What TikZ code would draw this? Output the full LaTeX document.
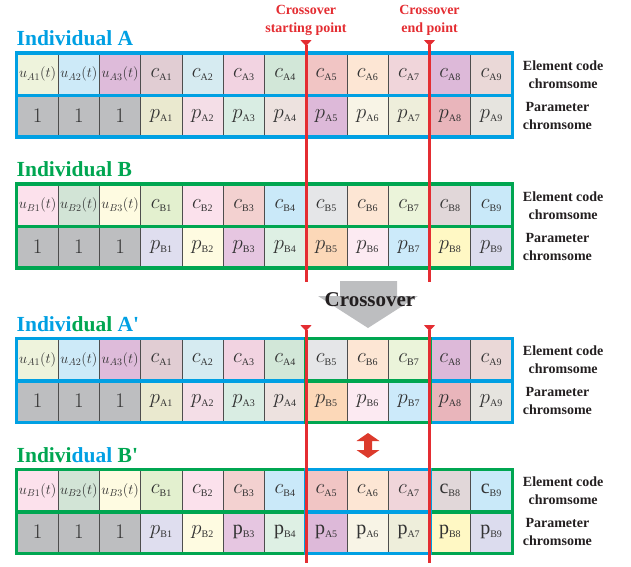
\documentclass[tikz,border=0pt]{standalone}
\usepackage{fontspec}
\setmainfont{Liberation Serif}
\usepackage{xcolor}
\usepackage{tikz}
\usetikzlibrary{arrows.meta, positioning}

\definecolor{indA}{RGB}{0,160,227}
\definecolor{indB}{RGB}{0,166,81}
\definecolor{cutred}{RGB}{228,45,50}
\definecolor{swapred}{RGB}{220,58,44}
\definecolor{gene}{RGB}{51,51,51}
\definecolor{grid}{RGB}{77,77,77}
\definecolor{onegray}{RGB}{189,190,192}
\definecolor{ink}{RGB}{35,31,32}

\newcommand{\ugen}[1]{{\fontsize{14}{14}\selectfont$u_{#1}(t)$}}
\newcommand{\cgen}[1]{$c_{\mbox{\fontsize{10}{10}\selectfont#1}}$}
\newcommand{\pgen}[1]{$p_{\mbox{\fontsize{10}{10}\selectfont#1}}$}
\newcommand{\cgenr}[1]{{\fontsize{20}{20}\selectfont c$_{\mbox{\fontsize{10}{10}\selectfont#1}}$}}
\newcommand{\pgenr}[1]{{\fontsize{20}{20}\selectfont p$_{\mbox{\fontsize{10}{10}\selectfont#1}}$}}
\newcommand{\one}{{\fontsize{20}{20}\selectfont$1$}}

\begin{document}
\begin{tikzpicture}[x=1pt, y=-1pt,
  cell/.style={draw=grid, line width=0.8pt, minimum width=41.25pt, minimum height=41.5pt,
    inner sep=0pt, text=gene, font=\fontsize{22}{22}\selectfont},
  title/.style={anchor=base west, inner sep=0pt, font=\fontsize{21.5}{22}\selectfont\bfseries},
  side/.style={font=\fontsize{14}{18}\selectfont\bfseries, align=center, text=ink},
  cutlbl/.style={text=cutred, font=\fontsize{14}{18}\selectfont\bfseries, align=center},
  cutline/.style={draw=cutred, line width=3pt, {Triangle[reversed, width=11pt, length=6pt]}-},
  boxA/.style={draw=indA, line width=3.5pt},
  boxB/.style={draw=indB, line width=3.5pt}]

\useasboundingbox (0,0) rectangle (631,566);

% Individual A
\foreach \lab/\col [count=\i] in {
  {\ugen{A1}}/EEF3DC, {\ugen{A2}}/CDEAF8, {\ugen{A3}}/DEBBDA,
  {\cgen{A1}}/E1CDD3, {\cgen{A2}}/D6EBF1, {\cgen{A3}}/F2D3E1, {\cgen{A4}}/D2E7D8,
  {\cgen{A5}}/F1C5C4, {\cgen{A6}}/FDE6D4, {\cgen{A7}}/F0D5DA, {\cgen{A8}}/DDB9D9,
  {\cgen{A9}}/EAD8D7}{
  \definecolor{cellfill}{HTML}{\col}
  \node[cell, fill=cellfill] (Ae\i) at ({17+41.25*(\i-0.5)}, 74.25) {\lab};
}
\foreach \lab/\col [count=\i] in {
  \one/BDBEC0, \one/BDBEC0, \one/BDBEC0,
  {\pgen{A1}}/EAE9CF, {\pgen{A2}}/F4DEE7, {\pgen{A3}}/D9EDE3, {\pgen{A4}}/EDE2DF,
  {\pgen{A5}}/DDB9D9, {\pgen{A6}}/F8F4E6, {\pgen{A7}}/EEEEDB, {\pgen{A8}}/E9B5BB,
  {\pgen{A9}}/E6E4DF}{
  \definecolor{cellfill}{HTML}{\col}
  \node[cell, fill=cellfill] (Ap\i) at ({17+41.25*(\i-0.5)}, 115.75) {\lab};
}
\draw[boxA] (Ae1.north west) rectangle (Ap12.south east);
\draw[boxA] (Ae1.south west) -- (Ae12.south east);
\node[title, text=indA] (Atitle) at (16.5,45) {Individual A};

% Individual B
\foreach \lab/\col [count=\i] in {
  {\ugen{B1}}/FCE1EC, {\ugen{B2}}/D2E4D6, {\ugen{B3}}/FEFBE1,
  {\cgen{B1}}/E3F0CF, {\cgen{B2}}/FBE1EC, {\cgen{B3}}/F3D1D0, {\cgen{B4}}/CAE9F9,
  {\cgen{B5}}/E5E6E8, {\cgen{B6}}/FDE6D4, {\cgen{B7}}/EBF4DA, {\cgen{B8}}/E1D7D9,
  {\cgen{B9}}/C9E9F9}{
  \definecolor{cellfill}{HTML}{\col}
  \node[cell, fill=cellfill] (Be\i) at ({17+41.25*(\i-0.5)}, 205.25) {\lab};
}
\foreach \lab/\col [count=\i] in {
  \one/BDBEC0, \one/BDBEC0, \one/BDBEC0,
  {\pgen{B1}}/DFDEEF, {\pgen{B2}}/FEFBE1, {\pgen{B3}}/E6C6E1, {\pgen{B4}}/DEF0E4,
  {\pgen{B5}}/FCD8B8, {\pgen{B6}}/FCEAF2, {\pgen{B7}}/CCEAFA, {\pgen{B8}}/FFF8C4,
  {\pgen{B9}}/DCDCEE}{
  \definecolor{cellfill}{HTML}{\col}
  \node[cell, fill=cellfill] (Bp\i) at ({17+41.25*(\i-0.5)}, 246.75) {\lab};
}
\draw[boxB] (Be1.north west) rectangle (Bp12.south east);
\draw[boxB] (Be1.south west) -- (Be12.south east);
\node[title, text=indB] (Btitle) at (16.5,176) {Individual B};

% Individual A'
\foreach \lab/\col [count=\i] in {
  {\ugen{A1}}/EEF3DC, {\ugen{A2}}/CDEAF8, {\ugen{A3}}/DEBBDA,
  {\cgen{A1}}/E1CDD3, {\cgen{A2}}/D6EBF1, {\cgen{A3}}/F2D3E1, {\cgen{A4}}/D2E7D8,
  {\cgen{B5}}/E5E6E8, {\cgen{B6}}/FDE6D4, {\cgen{B7}}/EBF4DA, {\cgen{A8}}/DDB9D9,
  {\cgen{A9}}/EAD8D7}{
  \definecolor{cellfill}{HTML}{\col}
  \node[cell, fill=cellfill] (Aoe\i) at ({17+41.25*(\i-0.5)}, 359.75) {\lab};
}
\foreach \lab/\col [count=\i] in {
  \one/BDBEC0, \one/BDBEC0, \one/BDBEC0,
  {\pgen{A1}}/EAE9CF, {\pgen{A2}}/F4DEE7, {\pgen{A3}}/D9EDE3, {\pgen{A4}}/EDE2DF,
  {\pgen{B5}}/FCD8B8, {\pgen{B6}}/FCEAF2, {\pgen{B7}}/CCEAFA, {\pgen{A8}}/E9B5BB,
  {\pgen{A9}}/E6E4DF}{
  \definecolor{cellfill}{HTML}{\col}
  \node[cell, fill=cellfill] (Aop\i) at ({17+41.25*(\i-0.5)}, 401.25) {\lab};
}
\draw[boxA] (Aoe1.north west) rectangle (Aop12.south east);
\draw[boxA] (Aoe1.south west) -- (Aoe12.south east);
\draw[boxB] (Aoe8.north west) rectangle (Aop10.south east);
\draw[boxB] (Aoe8.south west) -- (Aoe10.south east);
\node[title, text=indA] (Aotitle) at (16.5,331) {Indivi\textcolor{indB}{dual} A\textquotesingle};

% Individual B'
\foreach \lab/\col [count=\i] in {
  {\ugen{B1}}/FCE1EC, {\ugen{B2}}/D2E4D6, {\ugen{B3}}/FEFBE1,
  {\cgen{B1}}/E3F0CF, {\cgen{B2}}/FBE1EC, {\cgen{B3}}/F3D1D0, {\cgen{B4}}/CAE9F9,
  {\cgen{A5}}/F1C5C4, {\cgen{A6}}/FDE6D4, {\cgen{A7}}/F0D5DA, {\cgenr{B8}}/E1D7D9,
  {\cgenr{B9}}/C9E9F9}{
  \definecolor{cellfill}{HTML}{\col}
  \node[cell, fill=cellfill] (Boe\i) at ({17+41.25*(\i-0.5)}, 490.75) {\lab};
}
\foreach \lab/\col [count=\i] in {
  \one/BDBEC0, \one/BDBEC0, \one/BDBEC0,
  {\pgen{B1}}/DFDEEF, {\pgen{B2}}/FEFBE1, {\pgenr{B3}}/E6C6E1, {\pgenr{B4}}/DEF0E4,
  {\pgenr{A5}}/DDB9D9, {\pgenr{A6}}/F8F4E6, {\pgenr{A7}}/EEEEDB, {\pgenr{B8}}/FFF8C4,
  {\pgenr{B9}}/DCDCEE}{
  \definecolor{cellfill}{HTML}{\col}
  \node[cell, fill=cellfill] (Bop\i) at ({17+41.25*(\i-0.5)}, 532.25) {\lab};
}
\draw[boxB] (Boe1.north west) rectangle (Bop12.south east);
\draw[boxB] (Boe1.south west) -- (Boe12.south east);
\draw[boxA] (Boe8.north west) rectangle (Bop10.south east);
\draw[boxA] (Boe8.south west) -- (Boe10.south east);
\node[title, text=indB] (Botitle) at (16.5,462) {Indivi\textcolor{indA}{dual} B\textquotesingle};

% Row names
\foreach \r in {Ae, Be, Aoe, Boe}
  \node[side, right=7pt of \r12] {Element code\\chromsome};
\foreach \r in {Ap, Bp, Aop, Bop}
  \node[side, right=7pt of \r12] {Parameter\\chromsome};

% Crossover points
\node[cutlbl] (startlbl) at (306,20) {Crossover\\starting point};
\node[cutlbl] (endlbl) at (429.5,20) {Crossover\\end point};
\coordinate (start1) at (306,40);
\coordinate (start2) at (306,282);
\coordinate (end1) at (429.5,40);
\coordinate (end2) at (429.5,282);
\coordinate (start3) at (306,325);
\coordinate (start4) at (306,563);
\coordinate (end3) at (429.5,325);
\coordinate (end4) at (429.5,563);
\draw[cutline] (start1) -- (start2);
\draw[cutline] (end1) -- (end2);
\draw[cutline] (start3) -- (start4);
\draw[cutline] (end3) -- (end4);

% Crossover arrow
\fill[onegray] (340,281) -- (397,281) -- (397,296) -- (418,296) -- (368,328)
  -- (318,296) -- (340,296) -- cycle;
\node[font=\fontsize{21}{21}\selectfont\bfseries, text=ink] (xover) at (370,300) {Crossover};

% Exchange arrow
\fill[swapred] (368,433) -- (379.5,441) -- (372,441) -- (372,450) -- (379.5,450) -- (368,458)
  -- (356.5,450) -- (364,450) -- (364,441) -- (356.5,441) -- cycle;

\end{tikzpicture}
\end{document}
